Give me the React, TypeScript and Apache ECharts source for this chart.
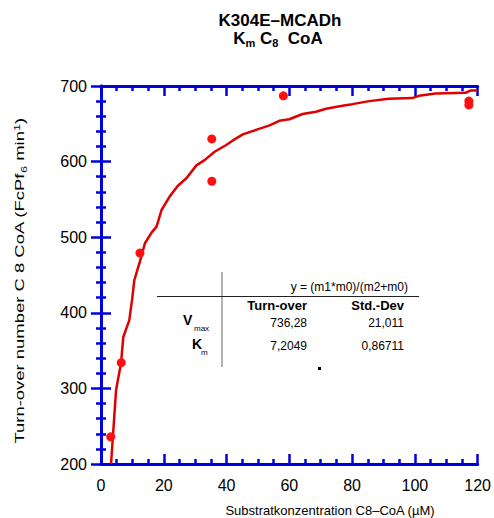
import React, { useEffect, useRef } from "react";
import * as echarts from "echarts";

const pointX = [3.1, 6.45, 12.4, 35.3, 35.3, 58.1, 117.2, 117.2];
const pointY = [236, 334, 479, 630, 574, 687, 680, 675];

const curveX = [3.2, 4.8, 6.4, 7.1, 9.0, 9.9, 10.6, 12.4, 14.0, 16.1, 17.7, 19.3, 21.9, 24.5, 27.2, 30.4, 33.0, 36.2, 39.9, 42.0, 45.2, 49.4, 53.7, 56.8, 60.0, 64.2, 68.5, 71.7, 76.9, 80.1, 85.4, 91.7, 99.1, 101.3, 106.6, 116.1, 117.7, 119.8];
const curveY = [200, 298, 334, 368, 390, 417, 443, 468, 492, 506, 514, 536, 554, 568, 578, 595, 602, 613, 622, 628, 636, 642, 648, 654, 656, 663, 666, 670, 674, 676, 680, 683, 684, 687, 690, 691, 694, 694];

const tableHeader = ["Turn-over", "Std.-Dev"];
const rowVmax = ["736,28", "21,011"];
const rowKm = ["7,2049", "0,86711"];
const formula = "y = (m1*m0)/(m2+m0)";

const FONT = "'Liberation Sans', Arial, sans-serif";
const BLUE = "#0000d8";

export default function App() {
  const ref = useRef<HTMLDivElement>(null);
  useEffect(() => {
    const chart = echarts.init(ref.current!, null, { renderer: "svg" });
    const axisCommon = {
      axisLine: { show: true, lineStyle: { color: BLUE, width: 3 } },
      axisTick: { show: true, inside: true, length: 10, lineStyle: { color: BLUE, width: 2.5 } },
      minorTick: { show: true, length: 5, lineStyle: { color: BLUE, width: 2.5 } },
      splitLine: { show: false },
    };
    const labelStyle = { color: "#000", fontSize: 16, fontFamily: FONT };
    chart.setOption({
      animation: false,
      backgroundColor: "#fff",
      grid: { left: 101, top: 86, right: 15, bottom: 54 },
      xAxis: [
        {
          type: "value", min: 0, max: 120, interval: 20, position: "bottom",
          ...axisCommon,
          minorTick: { ...axisCommon.minorTick, splitNumber: 4 },
          axisLabel: { ...labelStyle, margin: 13 },
        },
        {
          type: "value", min: 0, max: 120, interval: 20, position: "top",
          ...axisCommon,
          minorTick: { ...axisCommon.minorTick, splitNumber: 4 },
          axisLabel: { show: false },
        },
      ],
      yAxis: [
        {
          type: "value", min: 200, max: 700, interval: 100, position: "left",
          ...axisCommon,
          minorTick: { ...axisCommon.minorTick, splitNumber: 5 },
          axisLabel: { ...labelStyle, margin: 14 },
        },
        {
          type: "value", min: 200, max: 700, interval: 100, position: "right",
          ...axisCommon,
          minorTick: { ...axisCommon.minorTick, splitNumber: 5 },
          axisLabel: { show: false },
        },
      ],
      series: [
        {
          type: "line",
          data: curveX.map((x, i) => [x, curveY[i]]),
          showSymbol: false,
          lineStyle: { color: "#e00000", width: 2.5 },
          z: 3,
        },
        {
          type: "scatter",
          data: pointX.map((x, i) => [x, pointY[i]]),
          symbol: "circle",
          symbolSize: 9,
          itemStyle: { color: "#ff1010", opacity: 1 },
          z: 4,
        },
      ],
      graphic: [
        {
          type: "text", x: 280, y: 20,
          style: { text: "K304E–MCADh", font: `bold 17px ${FONT}`, fill: "#000", textAlign: "center", textVerticalAlign: "middle" },
        },
        {
          type: "text", x: 278, y: 38,
          style: {
            text: "{b|K}{s|m}{b| C}{s|8}{b|  CoA}",
            textAlign: "center", textVerticalAlign: "middle",
            rich: {
              b: { fontFamily: FONT, fontWeight: "bold", fontSize: 17, fill: "#000" },
              s: { fontFamily: FONT, fontWeight: "bold", fontSize: 11, fill: "#000", padding: [10, 0, 0, 0] },
            },
          },
        },
        {
          type: "text", x: 20, y: 281, rotation: Math.PI / 2, scaleX: 1.42,
          style: {
            text: "{n|Turn-over number C 8 CoA (FcPf}{sub|6}{n| min}{sup|1}{n|)}",
            textAlign: "center", textVerticalAlign: "middle",
            rich: {
              n: { fontFamily: FONT, fontSize: 13, fill: "#000" },
              sub: { fontFamily: FONT, fontSize: 9, fill: "#000", padding: [7, 0, 0, 0] },
              sup: { fontFamily: FONT, fontSize: 9, fill: "#000", padding: [0, 0, 7, 0] },
            },
          },
        },
        {
          type: "text", x: 330, y: 510,
          style: { text: "Substratkonzentration C8–CoA (µM)", font: `13px ${FONT}`, fill: "#000", textAlign: "center", textVerticalAlign: "middle" },
        },
        { type: "line", shape: { x1: 222, y1: 272, x2: 222, y2: 367 }, style: { stroke: "#666", lineWidth: 1 } },
        { type: "line", shape: { x1: 157, y1: 296.5, x2: 419, y2: 296.5 }, style: { stroke: "#222", lineWidth: 1.2 } },
        {
          type: "text", x: 408, y: 287,
          style: { text: formula, font: `12px ${FONT}`, fill: "#000", textAlign: "right", textVerticalAlign: "middle" },
        },
        {
          type: "text", x: 307, y: 305,
          style: { text: tableHeader[0], font: `bold 13px ${FONT}`, fill: "#000", textAlign: "right", textVerticalAlign: "middle" },
        },
        {
          type: "text", x: 404, y: 305,
          style: { text: tableHeader[1], font: `bold 13px ${FONT}`, fill: "#000", textAlign: "right", textVerticalAlign: "middle" },
        },
        {
          type: "text", x: 307, y: 323,
          style: { text: rowVmax[0], font: `12px ${FONT}`, fill: "#000", textAlign: "right", textVerticalAlign: "middle" },
        },
        {
          type: "text", x: 404, y: 323,
          style: { text: rowVmax[1], font: `12px ${FONT}`, fill: "#000", textAlign: "right", textVerticalAlign: "middle" },
        },
        {
          type: "text", x: 307, y: 346,
          style: { text: rowKm[0], font: `12px ${FONT}`, fill: "#000", textAlign: "right", textVerticalAlign: "middle" },
        },
        {
          type: "text", x: 404, y: 346,
          style: { text: rowKm[1], font: `12px ${FONT}`, fill: "#000", textAlign: "right", textVerticalAlign: "middle" },
        },
        {
          type: "text", x: 183, y: 320,
          style: { text: "V", font: `bold 14px ${FONT}`, fill: "#000", textAlign: "left", textVerticalAlign: "middle" },
        },
        {
          type: "text", x: 194, y: 328,
          style: { text: "max", font: `8px ${FONT}`, fill: "#000", textAlign: "left", textVerticalAlign: "middle" },
        },
        {
          type: "text", x: 192, y: 344,
          style: { text: "K", font: `bold 14px ${FONT}`, fill: "#000", textAlign: "left", textVerticalAlign: "middle" },
        },
        {
          type: "text", x: 201, y: 352,
          style: { text: "m", font: `8px ${FONT}`, fill: "#000", textAlign: "left", textVerticalAlign: "middle" },
        },
        { type: "rect", shape: { x: 318, y: 367, width: 3, height: 3 }, style: { fill: "#000" } },
      ],
    });
    return () => chart.dispose();
  }, []);
  return <div ref={ref} style={{ position: "fixed", left: 0, top: 0, width: 494, height: 518 }} />;
}
